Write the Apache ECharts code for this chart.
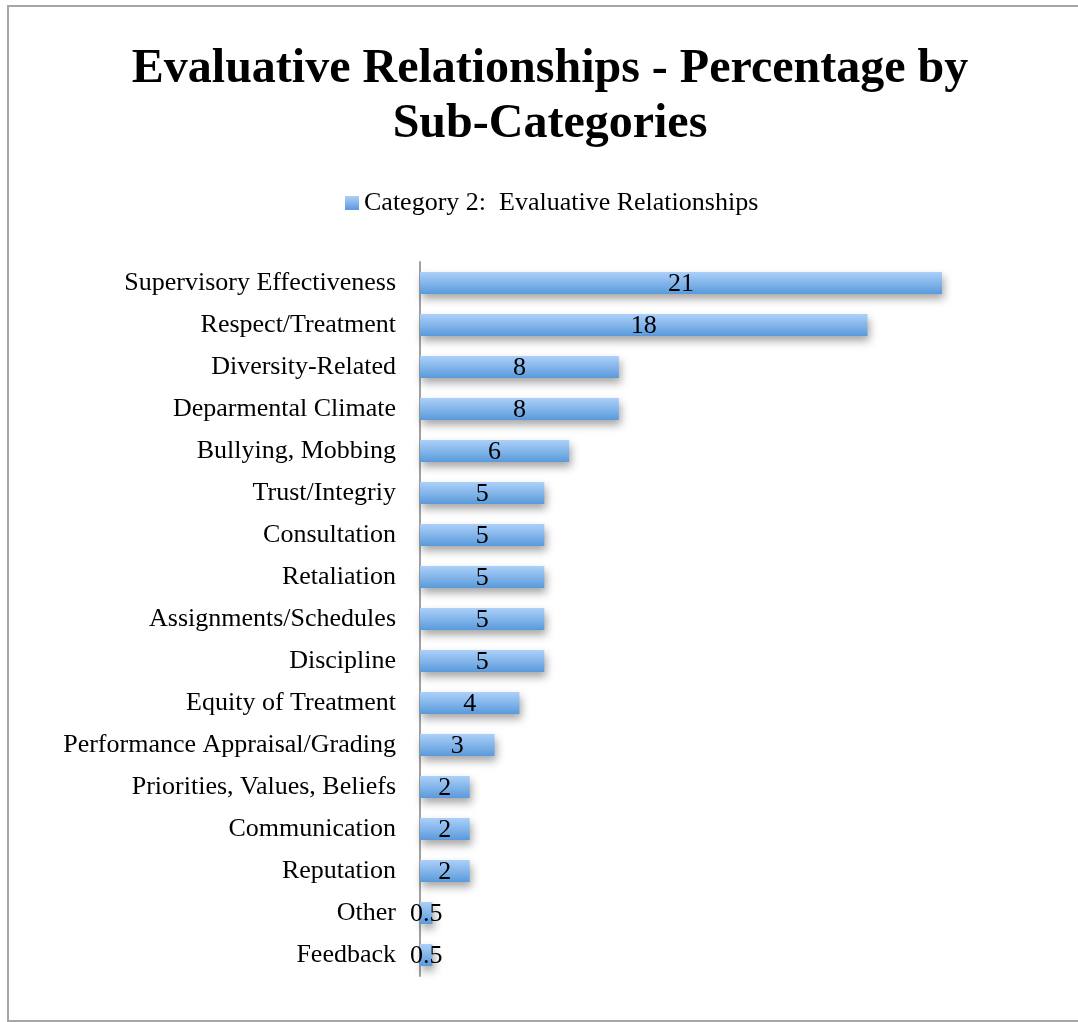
<!DOCTYPE html>
<html>
<head>
<meta charset="utf-8">
<style>
  html, body { margin: 0; padding: 0; background: #fff; }
  #chart { width: 1078px; height: 1022px; }
</style>
<script src="https://cdn.jsdelivr.net/npm/echarts@6/dist/echarts.min.js"></script>
</head>
<body>
<div id="chart"></div>
<script>
// Sub-categories, listed top to bottom
const categories = [
  'Supervisory Effectiveness',
  'Respect/Treatment',
  'Diversity-Related',
  'Deparmental Climate',
  'Bullying, Mobbing',
  'Trust/Integriy',
  'Consultation',
  'Retaliation',
  'Assignments/Schedules',
  'Discipline',
  'Equity of Treatment',
  'Performance Appraisal/Grading',
  'Priorities, Values, Beliefs',
  'Communication',
  'Reputation',
  'Other',
  'Feedback'
];

// Percentage for each sub-category
const percentages = [21, 18, 8, 8, 6, 5, 5, 5, 5, 5, 4, 3, 2, 2, 2, 0.5, 0.5];

const seriesName = 'Category 2:  Evaluative Relationships';
const serif = '"Liberation Serif", "Times New Roman", serif';

const chart = echarts.init(document.getElementById('chart'));

const barGradient = new echarts.graphic.LinearGradient(0, 0, 0, 1, [
  { offset: 0, color: '#acd0fa' },
  { offset: 1, color: '#5a9ada' }
]);

chart.setOption({
  backgroundColor: '#ffffff',
  animation: false,
  graphic: [{
    type: 'rect',
    shape: { x: 8, y: 6, width: 1090, height: 1015 },
    style: { fill: 'none', stroke: '#a6a6a6', lineWidth: 2 },
    silent: true,
    z: -10
  }],
  title: {
    text: 'Evaluative Relationships - Percentage by\nSub-Categories',
    left: 545,
    textAlign: 'center',
    top: 37,
    textStyle: {
      fontFamily: serif,
      fontWeight: 'bold',
      fontSize: 48,
      lineHeight: 55,
      color: '#000'
    }
  },
  legend: {
    top: 185,
    left: 340,
    itemWidth: 14,
    itemHeight: 14,
    itemGap: 8,
    icon: 'rect',
    textStyle: { fontFamily: serif, fontSize: 26, color: '#000' },
    data: [{ name: seriesName, itemStyle: { color: barGradient } }]
  },
  grid: {
    left: 420,
    top: 262,
    width: 522,
    height: 714,
    containLabel: false
  },
  xAxis: {
    type: 'value',
    min: 0,
    max: 21,
    show: false
  },
  yAxis: {
    type: 'category',
    data: categories,
    inverse: true,
    axisLine: { show: true, lineStyle: { color: '#a0a0a0', width: 2 } },
    axisTick: { show: false },
    axisLabel: {
      fontFamily: serif,
      fontSize: 26,
      color: '#000',
      margin: 24,
      padding: [4, 0, 0, 0]
    },
    splitLine: { show: false }
  },
  series: [{
    name: seriesName,
    type: 'bar',
    data: percentages,
    barWidth: 22,
    itemStyle: {
      color: barGradient,
      shadowColor: 'rgba(0,0,0,0.35)',
      shadowBlur: 8,
      shadowOffsetX: 2,
      shadowOffsetY: 5
    },
    label: {
      show: true,
      position: 'inside',
      fontFamily: serif,
      fontSize: 26,
      color: '#000',
      offset: [0, 1]
    }
  }]
});
</script>
</body>
</html>
